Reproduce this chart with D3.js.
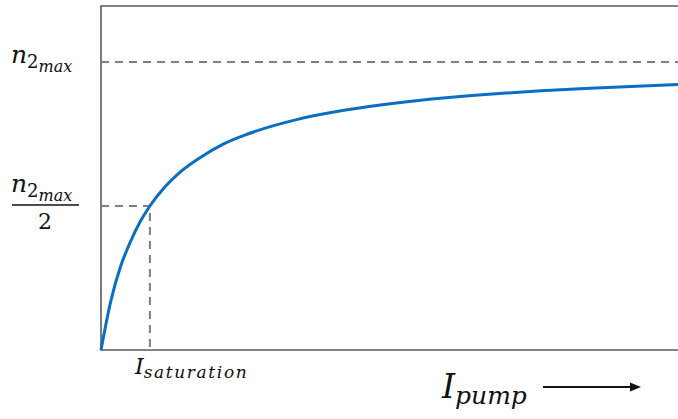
<!DOCTYPE html>
<html>
<head>
<meta charset="utf-8">
<script src="https://cdn.jsdelivr.net/npm/d3@7"></script>
<style>
  body { margin: 0; background: #fff; }
  svg { display: block; }
  .lbl { font-family: "DejaVu Serif", "Liberation Serif", serif; fill: #111; }
</style>
</head>
<body>
<div id="chart"></div>
<script>
// pump intensity in units of I_saturation, n2 in units of n2max
const pump = [0, 0.2, 0.4, 0.6, 0.8, 1, 1.3, 1.6, 2, 2.5, 3, 4, 5, 6, 7, 8, 9, 10, 11.8];
const n2 = [0, 0.17, 0.29, 0.375, 0.445, 0.5, 0.565, 0.615, 0.665, 0.715, 0.75, 0.8, 0.833, 0.857, 0.875, 0.889, 0.9, 0.909, 0.922];
const iSat = 1;
const n2max = 1;

const data = pump.map((p, i) => ({ p: p, n: n2[i] }));

const W = 678, H = 419;
const margin = { top: 6, right: 0, bottom: 69, left: 101 };

const svg = d3.select("#chart").append("svg")
  .attr("width", W)
  .attr("height", H);

const x = d3.scaleLinear()
  .domain([0, 11.8])
  .range([margin.left, W - margin.right]);

const y = d3.scaleLinear()
  .domain([0, 1])
  .range([H - margin.bottom, 62]);

const axisColor = "#5a5a5a";

// frame: left, top, bottom
svg.append("path")
  .attr("d", `M${W},${margin.top}H${margin.left}V${y(0)}H${W}`)
  .attr("fill", "none")
  .attr("stroke", axisColor)
  .attr("stroke-width", 1.6);

// guide lines
const dash = "8,6";
svg.append("line")
  .attr("x1", margin.left).attr("x2", W)
  .attr("y1", y(n2max)).attr("y2", y(n2max))
  .attr("stroke", "#7f7f7f").attr("stroke-width", 2)
  .attr("stroke-dasharray", dash);

svg.append("path")
  .attr("d", `M${margin.left},${y(n2max / 2)}H${x(iSat)}V${y(0)}`)
  .attr("fill", "none")
  .attr("stroke", "#7f7f7f").attr("stroke-width", 2)
  .attr("stroke-dasharray", dash);

// curve
const line = d3.line()
  .x(d => x(d.p))
  .y(d => y(d.n))
  .curve(d3.curveMonotoneX);

svg.append("path")
  .datum(data)
  .attr("d", line)
  .attr("fill", "none")
  .attr("stroke", "#0a6fc2")
  .attr("stroke-width", 3);

// y labels
function n2maxLabel(xPos, yPos) {
  const t = svg.append("text").attr("class", "lbl")
    .attr("x", xPos).attr("y", yPos);
  t.append("tspan").attr("font-size", 25).style("font-style", "italic").text("n");
  t.append("tspan").attr("font-size", 18).attr("dy", 5).style("font-style", "normal").text("2");
  t.append("tspan").attr("font-size", 16).attr("dy", 4).style("font-style", "italic").text("max");
}
n2maxLabel(11, y(n2max) + 1);
n2maxLabel(11, 192);
svg.append("line")
  .attr("x1", 12).attr("x2", 79)
  .attr("y1", 205).attr("y2", 205)
  .attr("stroke", "#111").attr("stroke-width", 1.5);
svg.append("text").attr("class", "lbl")
  .attr("x", 45).attr("y", 229)
  .attr("text-anchor", "middle")
  .style("font-style", "normal")
  .attr("font-size", 22)
  .text("2");

// x labels
const sat = svg.append("text").attr("class", "lbl")
  .attr("x", 135).attr("y", 374)
  .style("font-style", "italic");
sat.append("tspan").attr("font-size", 22).text("I");
sat.append("tspan").attr("font-size", 17).attr("dy", 4)
  .attr("textLength", 103).attr("lengthAdjust", "spacing").text("saturation");

const pl = svg.append("text").attr("class", "lbl")
  .attr("x", 442).attr("y", 398)
  .style("font-style", "italic");
pl.append("tspan").attr("font-size", 33).text("I");
pl.append("tspan").attr("font-size", 25).attr("dy", 6).text("pump");

svg.append("line")
  .attr("x1", 543).attr("x2", 632)
  .attr("y1", 387).attr("y2", 387)
  .attr("stroke", "#111").attr("stroke-width", 2);
svg.append("path")
  .attr("d", "M641,387L630,382.5L630,391.5Z")
  .attr("fill", "#111");
</script>
</body>
</html>
